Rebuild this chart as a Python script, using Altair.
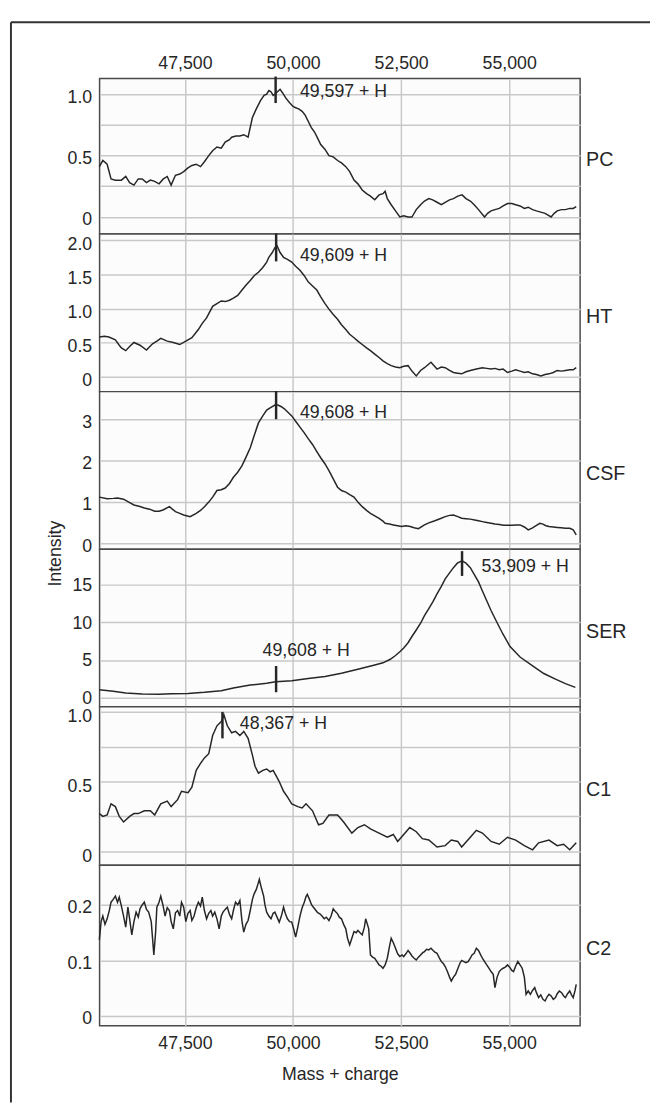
import altair as alt
import pandas as pd

FONT = "Liberation Sans, Arial, Helvetica, sans-serif"
INK = "#262626"

X_DOMAIN = [45525, 56640]
X_TICKS = [47500, 50000, 52500, 55000]

# ---------------- PC ----------------
pc_mass = [45520, 45600, 45700, 45790, 45890, 46030, 46130, 46220, 46320, 46420, 46510, 46610, 46700, 46800, 46900,
           47000, 47090, 47180, 47280, 47380, 47470, 47570, 47660, 47760, 47860, 47950, 48050, 48140, 48240, 48340,
           48430, 48530, 48580, 48680, 48770, 48860, 48960, 49060, 49150, 49250, 49330, 49390, 49440, 49490, 49540,
           49580, 49640, 49700, 49760, 49830, 49920, 50000, 50060, 50130, 50210, 50280, 50350, 50420, 50500, 50570,
           50640, 50740, 50830, 50930, 51030, 51120, 51220, 51310, 51410, 51500, 51600, 51700, 51790, 51890, 51990,
           52080, 52130, 52180, 52270, 52370, 52470, 52560, 52660, 52750, 52850, 52950, 53040, 53140, 53230, 53330,
           53430, 53520, 53620, 53710, 53810, 53910, 54000, 54100, 54190, 54290, 54430, 54500, 54580, 54670, 54770,
           54860, 54960, 55060, 55150, 55250, 55350, 55440, 55540, 55630, 55730, 55830, 55970, 56040, 56110, 56210,
           56300, 56400, 56480, 56550]
pc_int = [0.41, 0.46, 0.43, 0.31, 0.30, 0.30, 0.33, 0.28, 0.26, 0.31, 0.31, 0.28, 0.30, 0.29, 0.27,
          0.31, 0.33, 0.26, 0.34, 0.35, 0.37, 0.40, 0.42, 0.43, 0.41, 0.45, 0.50, 0.54, 0.57, 0.56,
          0.61, 0.63, 0.65, 0.66, 0.66, 0.67, 0.65, 0.81, 0.88, 0.95, 0.99, 1.00, 1.03, 1.02, 0.99,
          1.00, 1.02, 1.04, 1.01, 0.97, 0.93, 0.90, 0.89, 0.88, 0.86, 0.83, 0.78, 0.73, 0.69, 0.64,
          0.59, 0.55, 0.50, 0.49, 0.46, 0.44, 0.41, 0.37, 0.30, 0.27, 0.22, 0.19, 0.17, 0.14, 0.18,
          0.19, 0.21, 0.15, 0.10, 0.05, 0.00, 0.01, 0.00, 0.00, 0.06, 0.10, 0.13, 0.15, 0.14, 0.12,
          0.10, 0.12, 0.14, 0.15, 0.17, 0.18, 0.15, 0.13, 0.10, 0.06, 0.00, 0.03, 0.05, 0.06, 0.07,
          0.09, 0.11, 0.11, 0.10, 0.09, 0.07, 0.08, 0.06, 0.05, 0.04, 0.03, 0.00, 0.03, 0.05, 0.06,
          0.06, 0.07, 0.07, 0.085]

# ---------------- HT ----------------
ht_mass = [45520, 45640, 45740, 45890, 45980, 46030, 46130, 46220, 46320, 46460, 46610, 46750, 46850, 46940, 47090,
           47230, 47380, 47520, 47660, 47810, 47900, 48000, 48140, 48240, 48340, 48430, 48530, 48620, 48720, 48820,
           48910, 49010, 49100, 49200, 49300, 49390, 49440, 49520, 49580, 49630, 49700, 49780, 49870, 49970, 50060,
           50160, 50260, 50350, 50450, 50550, 50640, 50740, 50830, 50930, 51030, 51120, 51220, 51310, 51410, 51500,
           51600, 51700, 51790, 51890, 51990, 52080, 52180, 52270, 52370, 52470, 52560, 52660, 52750, 52850, 52950,
           53040, 53190, 53330, 53430, 53520, 53620, 53710, 53810, 53900, 54000, 54100, 54240, 54380, 54480, 54580,
           54670, 54770, 54860, 54960, 55060, 55150, 55250, 55350, 55440, 55540, 55630, 55730, 55830, 55920, 56020,
           56110, 56210, 56300, 56400, 56480, 56550]
ht_int = [0.58, 0.59, 0.58, 0.54, 0.46, 0.42, 0.38, 0.44, 0.50, 0.46, 0.39, 0.48, 0.52, 0.56, 0.52,
          0.50, 0.47, 0.52, 0.57, 0.69, 0.78, 0.86, 1.03, 1.07, 1.11, 1.10, 1.12, 1.15, 1.19, 1.27,
          1.34, 1.41, 1.48, 1.53, 1.60, 1.68, 1.75, 1.82, 1.89, 1.92, 1.82, 1.75, 1.72, 1.68, 1.62,
          1.56, 1.48, 1.39, 1.33, 1.27, 1.17, 1.07, 0.99, 0.91, 0.84, 0.76, 0.69, 0.62, 0.57, 0.52,
          0.47, 0.42, 0.38, 0.33, 0.28, 0.23, 0.19, 0.16, 0.14, 0.13, 0.15, 0.16, 0.08, 0.01, 0.09,
          0.13, 0.21, 0.11, 0.14, 0.13, 0.09, 0.06, 0.05, 0.04, 0.07, 0.09, 0.11, 0.13, 0.12, 0.11,
          0.12, 0.10, 0.11, 0.06, 0.08, 0.10, 0.08, 0.06, 0.07, 0.04, 0.03, 0.01, 0.03, 0.04, 0.06,
          0.09, 0.08, 0.09, 0.10, 0.10, 0.13]

# ---------------- CSF ----------------
csf_mass = [45520, 45700, 45840, 45940, 46080, 46200, 46320, 46440, 46560, 46680, 46800, 46900, 46990, 47140, 47280,
            47380, 47470, 47620, 47760, 47860, 47950, 48050, 48140, 48240, 48340, 48430, 48530, 48620, 48720, 48820,
            48910, 49010, 49100, 49200, 49300, 49390, 49480, 49580, 49650, 49730, 49800, 49870, 49970, 50060, 50160,
            50260, 50350, 50450, 50550, 50640, 50740, 50830, 50930, 51030, 51120, 51220, 51310, 51410, 51500, 51600,
            51700, 51790, 51890, 51990, 52080, 52130, 52230, 52320, 52420, 52510, 52610, 52710, 52800, 52900, 53040,
            53140, 53280, 53400, 53520, 53620, 53710, 53810, 53900, 54000, 54100, 54200, 54290, 54380, 54480, 54580,
            54670, 54770, 54870, 54960, 55060, 55150, 55250, 55350, 55440, 55540, 55630, 55710, 55780, 55850, 55920,
            56020, 56110, 56200, 56300, 56400, 56480, 56550]
csf_int = [1.12, 1.08, 1.09, 1.10, 1.07, 1.00, 0.93, 0.90, 0.86, 0.83, 0.78, 0.78, 0.81, 0.89, 0.77,
           0.73, 0.69, 0.65, 0.73, 0.80, 0.89, 1.00, 1.12, 1.28, 1.30, 1.34, 1.45, 1.60, 1.72, 1.88,
           2.08, 2.31, 2.60, 2.91, 3.08, 3.22, 3.28, 3.34, 3.34, 3.30, 3.25, 3.18, 3.08, 2.95, 2.81,
           2.67, 2.53, 2.39, 2.22, 2.07, 1.92, 1.76, 1.56, 1.36, 1.28, 1.24, 1.18, 1.12, 1.00, 0.89,
           0.80, 0.73, 0.67, 0.61, 0.54, 0.49, 0.47, 0.45, 0.43, 0.41, 0.43, 0.41, 0.38, 0.36, 0.45,
           0.50, 0.55, 0.60, 0.65, 0.68, 0.69, 0.65, 0.61, 0.60, 0.59, 0.57, 0.55, 0.53, 0.51, 0.49,
           0.47, 0.46, 0.44, 0.44, 0.44, 0.45, 0.45, 0.40, 0.33, 0.38, 0.44, 0.49, 0.47, 0.43, 0.41,
           0.40, 0.39, 0.38, 0.37, 0.37, 0.33, 0.21]

# ---------------- SER ----------------
ser_mass = [45520, 45840, 46130, 46510, 46900, 47180, 47570, 47950, 48340, 48620, 49010, 49390, 49600, 49970, 50350,
            50740, 51120, 51500, 51890, 52080, 52250, 52370, 52470, 52560, 52660, 52750, 52850, 52950, 53040, 53140,
            53240, 53330, 53430, 53520, 53620, 53710, 53800, 53910, 54000, 54100, 54190, 54290, 54380, 54480, 54580,
            54700, 54850, 55020, 55250, 55550, 55800, 56070, 56300, 56530]
ser_int = [1.05, 0.83, 0.61, 0.48, 0.44, 0.50, 0.55, 0.70, 0.92, 1.27, 1.66, 1.92, 2.10, 2.23, 2.53,
           2.80, 3.23, 3.76, 4.33, 4.63, 5.10, 5.60, 6.10, 6.60, 7.30, 8.13, 9.00, 9.90, 10.90, 11.84,
           12.80, 13.80, 14.80, 15.80, 16.60, 17.30, 17.90, 18.20, 17.90, 17.30, 16.40, 15.40, 14.20, 12.90, 11.60,
           10.20, 8.50, 6.80, 5.40, 4.20, 3.20, 2.45, 1.85, 1.36]

# ---------------- C1 ----------------
c1_mass = [45520, 45600, 45700, 45790, 45890, 45980, 46080, 46220, 46320, 46420, 46560, 46700, 46800, 46940, 47090,
           47180, 47330, 47420, 47570, 47660, 47760, 47860, 47950, 48050, 48140, 48240, 48340, 48400, 48480, 48580,
           48670, 48770, 48860, 48960, 49060, 49120, 49200, 49300, 49390, 49470, 49540, 49610, 49680, 49780, 49870,
           49970, 50110, 50210, 50300, 50450, 50590, 50690, 50830, 51030, 51170, 51360, 51500, 51650, 51790, 51990,
           52180, 52320, 52420, 52560, 52700, 52850, 52990, 53140, 53330, 53520, 53660, 53810, 53900, 54100, 54240,
           54380, 54580, 54770, 54960, 55150, 55350, 55540, 55680, 55920, 56110, 56260, 56400, 56550]
c1_int = [0.27, 0.25, 0.26, 0.34, 0.32, 0.25, 0.21, 0.25, 0.27, 0.27, 0.29, 0.29, 0.26, 0.34, 0.36,
          0.32, 0.37, 0.43, 0.42, 0.46, 0.58, 0.63, 0.67, 0.70, 0.83, 0.90, 0.93, 0.98, 0.90, 0.85,
          0.86, 0.83, 0.86, 0.81, 0.69, 0.61, 0.56, 0.58, 0.59, 0.57, 0.58, 0.54, 0.50, 0.43, 0.39,
          0.34, 0.32, 0.31, 0.34, 0.29, 0.19, 0.20, 0.26, 0.26, 0.21, 0.13, 0.17, 0.19, 0.16, 0.13,
          0.10, 0.12, 0.07, 0.12, 0.17, 0.14, 0.09, 0.08, 0.03, 0.04, 0.08, 0.07, 0.03, 0.10, 0.15,
          0.13, 0.07, 0.05, 0.10, 0.08, 0.04, 0.01, 0.06, 0.08, 0.04, 0.05, 0.01, 0.06]

# ---------------- C2 ----------------
c2_mass = [45520, 45560, 45600, 45650, 45700, 45750, 45790, 45840, 45890, 45940, 45980, 46030, 46080, 46130, 46180,
           46220, 46270, 46320, 46370, 46420, 46460, 46510, 46560, 46610, 46660, 46720, 46780, 46820, 46850, 46900,
           46940, 46990, 47040, 47090, 47140, 47180, 47230, 47280, 47330, 47380, 47420, 47470, 47520, 47570, 47620,
           47660, 47710, 47760, 47810, 47860, 47900, 47950, 48000, 48050, 48100, 48140, 48190, 48240, 48290, 48340,
           48380, 48430, 48480, 48530, 48580, 48620, 48670, 48720, 48770, 48820, 48860, 48910, 48960, 49010, 49060,
           49100, 49150, 49190, 49220, 49270, 49320, 49350, 49390, 49440, 49490, 49540, 49580, 49630, 49680, 49730,
           49780, 49820, 49870, 49920, 49970, 50010, 50060, 50110, 50160, 50210, 50260, 50300, 50330, 50380, 50430,
           50480, 50530, 50570, 50620, 50670, 50720, 50770, 50830, 50880, 50930, 50980, 51030, 51070, 51120, 51170,
           51220, 51260, 51310, 51360, 51410, 51460, 51500, 51550, 51600, 51650, 51680, 51720, 51750, 51790, 51840,
           51890, 51940, 51990, 52030, 52080, 52130, 52180, 52230, 52270, 52320, 52370, 52420, 52470, 52520, 52560,
           52610, 52660, 52710, 52750, 52800, 52850, 52900, 52950, 53000, 53040, 53090, 53140, 53190, 53240, 53280,
           53330, 53380, 53430, 53480, 53520, 53570, 53620, 53660, 53710, 53760, 53810, 53860, 53900, 53950, 54000,
           54050, 54100, 54140, 54190, 54240, 54290, 54340, 54380, 54430, 54480, 54530, 54580, 54630, 54670, 54720,
           54770, 54820, 54860, 54910, 54960, 55010, 55060, 55100, 55150, 55200, 55250, 55300, 55350, 55390, 55440,
           55490, 55540, 55590, 55630, 55680, 55730, 55780, 55830, 55880, 55920, 55970, 56020, 56070, 56110, 56160,
           56210, 56260, 56300, 56350, 56400, 56440, 56480, 56520, 56550]
c2_int = [0.137, 0.170, 0.180, 0.165, 0.175, 0.190, 0.205, 0.210, 0.216, 0.205, 0.214, 0.198, 0.180, 0.160, 0.196,
          0.175, 0.146, 0.170, 0.187, 0.178, 0.193, 0.200, 0.205, 0.192, 0.187, 0.170, 0.110, 0.150, 0.196, 0.205,
          0.216, 0.200, 0.180, 0.195, 0.190, 0.170, 0.157, 0.186, 0.190, 0.180, 0.205, 0.196, 0.170, 0.185, 0.190,
          0.172, 0.180, 0.195, 0.205, 0.198, 0.214, 0.190, 0.175, 0.185, 0.190, 0.180, 0.187, 0.175, 0.157, 0.180,
          0.187, 0.192, 0.196, 0.183, 0.175, 0.190, 0.205, 0.200, 0.208, 0.170, 0.151, 0.165, 0.172, 0.190, 0.210,
          0.220, 0.228, 0.238, 0.246, 0.230, 0.216, 0.200, 0.187, 0.180, 0.175, 0.185, 0.187, 0.178, 0.169, 0.180,
          0.196, 0.185, 0.175, 0.170, 0.169, 0.158, 0.142, 0.160, 0.180, 0.195, 0.205, 0.215, 0.219, 0.210, 0.200,
          0.195, 0.190, 0.186, 0.184, 0.180, 0.175, 0.178, 0.172, 0.180, 0.193, 0.188, 0.184, 0.178, 0.175, 0.165,
          0.157, 0.140, 0.128, 0.140, 0.152, 0.150, 0.154, 0.150, 0.146, 0.160, 0.175, 0.165, 0.157, 0.110, 0.106,
          0.104, 0.098, 0.092, 0.090, 0.086, 0.092, 0.104, 0.125, 0.140, 0.132, 0.122, 0.112, 0.107, 0.110, 0.107,
          0.112, 0.118, 0.113, 0.108, 0.104, 0.101, 0.106, 0.110, 0.114, 0.116, 0.120, 0.119, 0.122, 0.118, 0.115,
          0.113, 0.105, 0.098, 0.094, 0.089, 0.080, 0.070, 0.063, 0.070, 0.075, 0.085, 0.095, 0.100, 0.098, 0.096,
          0.098, 0.104, 0.110, 0.113, 0.122, 0.118, 0.110, 0.104, 0.098, 0.092, 0.086, 0.080, 0.075, 0.051, 0.070,
          0.080, 0.084, 0.086, 0.088, 0.092, 0.088, 0.082, 0.080, 0.090, 0.098, 0.092, 0.086, 0.070, 0.039, 0.045,
          0.039, 0.046, 0.051, 0.042, 0.033, 0.038, 0.030, 0.027, 0.035, 0.039, 0.036, 0.030, 0.033, 0.040, 0.045,
          0.042, 0.036, 0.033, 0.040, 0.045, 0.038, 0.033, 0.045, 0.057]

# ---------------- panel settings ----------------
panel_names = ["PC", "HT", "CSF", "SER", "C1", "C2"]
panel_heights = [158, 160, 160, 160, 161, 163]
panel_domains = [[-0.139, 1.128], [-0.221, 2.091], [-0.135, 3.665],
                 [-1.22, 19.76], [-0.101, 1.037], [-0.0177, 0.2715]]
panel_ticks = [[0, 0.25, 0.5, 0.75, 1.0], [0, 0.5, 1.0, 1.5, 2.0], [0, 1, 2, 3],
               [0, 5, 10, 15], [0, 0.25, 0.5, 0.75, 1.0], [0, 0.1, 0.2]]
panel_label_expr = [
    "datum.value == 0 ? '0' : (datum.value == 0.5 || datum.value == 1 ? format(datum.value, '.1f') : '')",
    "datum.value == 0 ? '0' : format(datum.value, '.1f')",
    "format(datum.value, 'd')",
    "format(datum.value, 'd')",
    "datum.value == 0 ? '0' : (datum.value == 0.5 || datum.value == 1 ? format(datum.value, '.1f') : '')",
    "datum.value == 0 ? '0' : format(datum.value, '.1f')",
]
panel_label_offset = [3, 4, 3, 1, 5, 3]
panel_series = [(pc_mass, pc_int), (ht_mass, ht_int), (csf_mass, csf_int),
                (ser_mass, ser_int), (c1_mass, c1_int), (c2_mass, c2_int)]

# peak annotations: panel, peak mass, tick top, tick bottom, label, label mass, label intensity
ann_panel = ["PC", "HT", "CSF", "SER", "SER", "C1"]
ann_mass = [49597, 49609, 49608, 53909, 49608, 48367]
ann_top = [1.144, 2.10, 3.68, 19.5, 4.2, 1.0]
ann_bottom = [0.928, 1.69, 3.0, 16.2, 0.71, 0.81]
ann_text = ["49,597 + H", "49,609 + H", "49,608 + H", "53,909 + H", "49,608 + H", "48,367 + H"]
ann_text_mass = [50160, 50160, 50160, 54360, 49295, 48770]
ann_text_int = [1.016, 1.763, 3.14, 17.44, 6.16, 0.91]

W = 488


def make_panel(i):
    name = panel_names[i]
    h = panel_heights[i]
    mass, inten = panel_series[i]
    xs = alt.Scale(domain=X_DOMAIN, nice=False, zero=False)
    ys = alt.Scale(domain=panel_domains[i], nice=False, zero=False)

    if i == 0:
        x_axis = alt.Axis(values=X_TICKS, format=",.0f", orient="top", ticks=False, domain=False,
                          labelPadding=6, title=None, grid=True)
    elif i == len(panel_names) - 1:
        x_axis = alt.Axis(values=X_TICKS, format=",.0f", orient="bottom", ticks=False, domain=False,
                          labelPadding=9, title="Mass + charge", titlePadding=14, grid=True)
    else:
        x_axis = alt.Axis(values=X_TICKS, labels=False, ticks=False, domain=False, title=None, grid=True)
    y_axis = alt.Axis(values=panel_ticks[i], labelExpr=panel_label_expr[i], ticks=False, domain=False,
                      labelPadding=8, labelOffset=panel_label_offset[i], title=None, grid=True,
                      labelOverlap=False)

    df = pd.DataFrame({"mass": mass, "intensity": inten})
    line = alt.Chart(df).mark_line(color=INK, strokeWidth=1.5).encode(
        x=alt.X("mass:Q", scale=xs, axis=x_axis),
        y=alt.Y("intensity:Q", scale=ys, axis=y_axis),
    )
    layers = [line]

    idx = [k for k, p in enumerate(ann_panel) if p == name]
    if idx:
        adf = pd.DataFrame({
            "mass": [ann_mass[k] for k in idx],
            "top": [ann_top[k] for k in idx],
            "bottom": [ann_bottom[k] for k in idx],
            "text": [ann_text[k] for k in idx],
            "tmass": [ann_text_mass[k] for k in idx],
            "tint": [ann_text_int[k] for k in idx],
        })
        tick = alt.Chart(adf).mark_rule(color=INK, strokeWidth=2.5).encode(
            x=alt.X("mass:Q", scale=xs, axis=x_axis),
            y=alt.Y("top:Q", scale=ys, axis=y_axis),
            y2="bottom:Q",
        )
        txt = alt.Chart(adf).mark_text(align="left", baseline="middle", font=FONT, fontSize=18,
                                       color=INK).encode(
            x=alt.X("tmass:Q", scale=xs, axis=x_axis),
            y=alt.Y("tint:Q", scale=ys, axis=y_axis),
            text="text:N",
        )
        layers += [tick, txt]

    lab = alt.Chart(pd.DataFrame({"t": [name]})).mark_text(
        align="left", baseline="middle", font=FONT, fontSize=20, color=INK
    ).encode(x=alt.value(W + 6), y=alt.value(h / 2 + 4), text="t:N")
    layers.append(lab)

    if i == 0:
        dummy = pd.DataFrame({"d": [0]})
        top_line = alt.Chart(dummy).mark_rule(color="#333333", strokeWidth=2).encode(
            x=alt.value(-90), x2=alt.value(559), y=alt.value(-57))
        left_line = alt.Chart(dummy).mark_rule(color="#333333", strokeWidth=2).encode(
            x=alt.value(-90), y=alt.value(-57), y2=alt.value(1040))
        layers += [top_line, left_line]
    if name == "SER":
        ttl = alt.Chart(pd.DataFrame({"t": ["Intensity"]})).mark_text(
            align="center", baseline="middle", angle=270, font=FONT, fontSize=18, color=INK
        ).encode(x=alt.value(-44), y=alt.value(4.5), text="t:N")
        layers.append(ttl)

    return alt.layer(*layers).properties(width=W, height=h)


chart = alt.vconcat(*[make_panel(i) for i in range(len(panel_names))], spacing=0, bounds="flush").properties(
    padding={"left": 1, "top": 4, "right": 0, "bottom": 0}
).configure_axis(
    labelFont=FONT, labelFontSize=18, labelColor=INK,
    titleFont=FONT, titleFontSize=18, titleColor=INK, titleFontWeight="normal",
    gridColor="#c8c8c8", gridWidth=1.5,
).configure_view(stroke="#4a4a4a", strokeWidth=1.5, fill="#fcfcfc")

chart.save("out.html", embed_options={"renderer": "svg", "actions": False})
